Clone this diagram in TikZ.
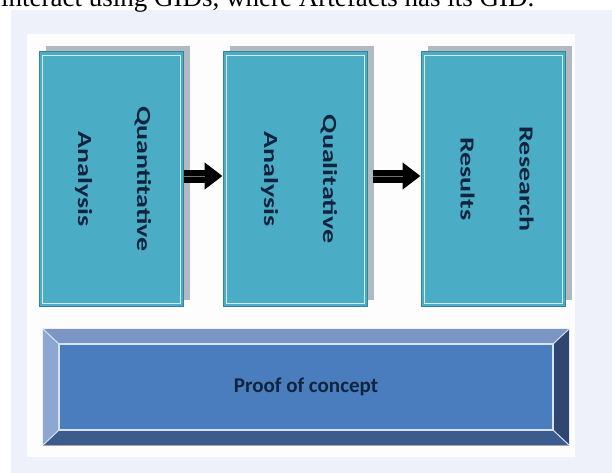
\documentclass[tikz,border=0pt]{standalone}
\usepackage{fontspec}
\newfontfamily\calibri{Carlito}
\newfontfamily\timesfont{Liberation Serif}
\usetikzlibrary{arrows.meta,shadows}

\definecolor{pagebg}{HTML}{EEF1FA}
\definecolor{panel}{HTML}{FDFDFE}
\definecolor{stagefill}{HTML}{4BACC6}
\definecolor{stageedge}{HTML}{35839C}
\definecolor{stageshadow}{HTML}{B3B9C0}
\definecolor{navytext}{HTML}{10243E}
\definecolor{facefill}{HTML}{4A7DBE}
\definecolor{bevtop}{HTML}{7B96C3}
\definecolor{bevleft}{HTML}{8CA7D2}
\definecolor{bevright}{HTML}{2F4670}
\definecolor{bevbottom}{HTML}{3D5C8E}
\definecolor{bevline}{HTML}{D6E3F4}

\tikzset{
  stage/.style={draw=stageedge, line width=1pt, fill=stagefill,
    minimum width=144pt, minimum height=254pt, inner sep=0pt,
    drop shadow={shadow xshift=7pt, shadow yshift=6pt, fill=stageshadow, opacity=1},
    path picture={\draw[white!75!stagefill, line width=0.8pt]
      ([shift={(3pt,-3pt)}]path picture bounding box.north west) rectangle
      ([shift={(-3pt,3pt)}]path picture bounding box.south east);}},
  stagetext/.style={rotate=-90, xscale=1.4, align=center, text=navytext,
    font=\calibri\bfseries\fontsize{20}{59}\selectfont},
  flow/.style={-{Triangle[length=18pt,width=26pt]}, line width=13pt, black},
  flowmid/.style={draw=black!55, line width=1pt},
  face/.style={fill=facefill, minimum width=494pt, minimum height=86pt, inner sep=0pt,
    text=navytext, font=\calibri\bfseries\fontsize{21}{25}\selectfont},
}

\begin{document}
\begin{tikzpicture}[x=1pt,y=-1pt]
\useasboundingbox (0,0) rectangle (612,473);
\fill[pagebg] (11,10) rectangle (612,473);
\fill[panel] (27,34) rectangle (575,457);
\begin{scope}
\clip (0,0) rectangle (612,473);
\node[anchor=base west, inner sep=0pt, font=\timesfont\fontsize{27}{30}\selectfont] (caption) at (1,7) {interact using GIDs, where Artefacts has its GID.};
\end{scope}

\node[stage] (quan) at (111,179) {};
\node[stagetext] (quantxt) at ([xshift=2pt]quan.center) {Quantitative\\Analysis};
\node[stage] (qual) at (295,179) {};
\node[stagetext] (qualtxt) at ([xshift=4pt]qual.center) {Qualitative\\Analysis};
\node[stage] (res) at (493,179) {};
\node[stagetext] (restxt) at ([xshift=4pt]res.center) {Research\\Results};

\draw[flow] ([yshift=3pt]quan.east) -- ([yshift=3pt]qual.west);
\draw[flowmid, shorten >=18pt] ([yshift=3pt]quan.east) -- ([yshift=3pt]qual.west);
\draw[flow, shorten <=5pt] ([yshift=3pt]qual.east) -- ([yshift=3pt]res.west);
\draw[flowmid, shorten <=5pt, shorten >=18pt] ([yshift=3pt]qual.east) -- ([yshift=3pt]res.west);

\node[minimum width=526pt, minimum height=116pt, inner sep=0pt] (pocframe) at (306,387) {};
\node[face] (poc) at (306,387) {Proof of concept};
\fill[bevtop] (pocframe.north west) -- (pocframe.north east) -- (poc.north east) -- (poc.north west) -- cycle;
\fill[bevright] (pocframe.north east) -- (pocframe.south east) -- (poc.south east) -- (poc.north east) -- cycle;
\fill[bevbottom] (pocframe.south east) -- (pocframe.south west) -- (poc.south west) -- (poc.south east) -- cycle;
\fill[bevleft] (pocframe.south west) -- (pocframe.north west) -- (poc.north west) -- (poc.south west) -- cycle;
\draw[bevline, line width=1.5pt] (poc.north west) rectangle (poc.south east);
\draw[bevline, line width=1pt] (pocframe.north west) -- (poc.north west) (pocframe.north east) -- (poc.north east)
  (pocframe.south east) -- (poc.south east) (pocframe.south west) -- (poc.south west);
\draw[black!35, line width=0.7pt] (pocframe.south west) -- (pocframe.south east);
\end{tikzpicture}
\end{document}
